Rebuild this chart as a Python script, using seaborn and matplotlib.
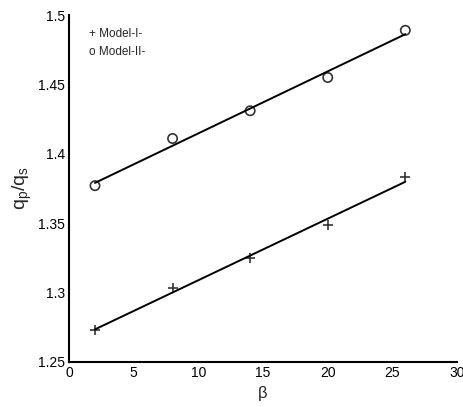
import matplotlib
matplotlib.use("Agg")
import matplotlib.pyplot as plt
import seaborn as sns
import pandas as pd

beta = [2, 8, 14, 20, 26]
model_1 = [1.273, 1.303, 1.325, 1.349, 1.383]
model_2 = [1.377, 1.411, 1.431, 1.455, 1.489]
x_ticks = [0, 5, 10, 15, 20, 25, 30]
y_ticks = [1.25, 1.3, 1.35, 1.4, 1.45, 1.5]
y_ticklabels = ["1.25", "1.3", "1.35", "1.4", "1.45", "1.5"]

sns.set_style("white")
plt.rcParams['font.family'] = ['Liberation Sans', 'DejaVu Sans']
plt.rcParams['mathtext.fontset'] = 'custom'
plt.rcParams['mathtext.rm'] = 'Liberation Sans'
plt.rcParams['mathtext.it'] = 'Liberation Sans'

df = pd.DataFrame({"beta": beta, "m1": model_1, "m2": model_2})

fig = plt.figure(figsize=(4.64, 4.07), dpi=100)
ax = fig.add_axes([0.149, 0.111, 0.836, 0.852])

line_kw = dict(color="black", lw=1.4)
sns.regplot(data=df, x="beta", y="m1", ci=None, ax=ax, truncate=True,
            marker="+", scatter_kws=dict(color="black", s=60, linewidths=1.2),
            line_kws=line_kw)
sns.regplot(data=df, x="beta", y="m2", ci=None, ax=ax, truncate=True,
            marker="o", scatter_kws=dict(facecolors="none", edgecolors="black", s=45, linewidths=1.2),
            line_kws=line_kw)

ax.set_xlim(0, 30)
ax.set_ylim(1.25, 1.5)
ax.set_xticks(x_ticks)
ax.set_yticks(y_ticks)
ax.set_yticklabels(y_ticklabels)
ax.tick_params(direction="in", length=4, width=1.2, labelsize=10, colors="black", pad=3)
for s in ["top", "right"]:
    ax.spines[s].set_visible(False)
for s in ["left", "bottom"]:
    ax.spines[s].set_linewidth(1.5)
    ax.spines[s].set_color("black")

ax.set_xlabel("β", fontsize=12, labelpad=4)
ax.set_ylabel(r"$\mathregular{q_p/q_s}$", fontsize=14, labelpad=3)

ax.text(0.051, 0.945, "+ Model-I-", transform=ax.transAxes, fontsize=8.5, va="center")
ax.text(0.051, 0.893, "o Model-II-", transform=ax.transAxes, fontsize=8.5, va="center")

fig.savefig("out.png", dpi=100)
